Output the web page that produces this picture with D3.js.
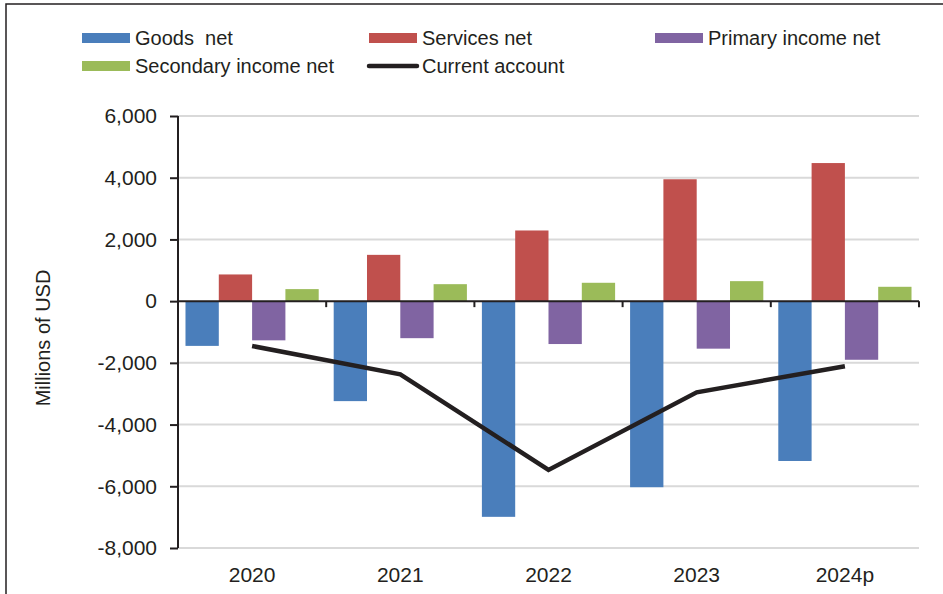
<!DOCTYPE html>
<html>
<head>
<meta charset="utf-8">
<script src="https://cdn.jsdelivr.net/npm/d3@7"></script>
<style>
  body { margin: 0; background: #fff; }
  svg { display: block; font-family: "Liberation Sans", Arial, sans-serif; }
  .grid line { stroke: #d9d9d9; stroke-width: 2; }
  .axis path, .axis line { stroke: #231f20; stroke-width: 2; }
  .axis text { fill: #231f20; font-size: 21px; }
  .legend text { fill: #231f20; font-size: 20px; white-space: pre; }
</style>
</head>
<body>
<div id="chart-container"><svg></svg></div>
<script>
const years = ["2020", "2021", "2022", "2023", "2024p"];
const seriesNames = ["Goods  net", "Services net", "Primary income net", "Secondary income net"];
const goodsNet = [-1450, -3240, -6990, -6030, -5180];
const servicesNet = [865, 1500, 2290, 3950, 4475];
const primaryIncomeNet = [-1270, -1200, -1390, -1540, -1900];
const secondaryIncomeNet = [390, 550, 595, 648, 465];
const currentAccount = [-1455, -2370, -5470, -2955, -2110];
const yTicks = [6000, 4000, 2000, 0, -2000, -4000, -6000, -8000];

const colors = ["#4a7ebb", "#c0504d", "#8064a2", "#9bbb59"];

const chartSize = {width: 943, height: 594};
const margin = {left: 178, right: 24, top: 116, bottom: 46};
const width = chartSize.width - margin.left - margin.right;
const height = chartSize.height - margin.top - margin.bottom;

const svg = d3.select("#chart-container svg")
  .attr("width", chartSize.width)
  .attr("height", chartSize.height);

// outer frame (left and top edges visible)
svg.append("path")
  .attr("d", "M6,594V4H943")
  .attr("fill", "none")
  .attr("stroke", "#231f20")
  .attr("stroke-width", 1.5);

const g = svg.append("g")
  .attr("transform", `translate(${margin.left},${margin.top})`);

const y = d3.scaleLinear().domain([-8000, 6000]).range([height, 0]);
const x0 = d3.scaleBand().domain(years).range([0, width]);
const x1 = d3.scaleBand().domain(d3.range(4)).range([0, x0.bandwidth()])
  .paddingInner(0).paddingOuter(0.225);

g.append("g")
  .attr("class", "grid")
  .selectAll("line")
  .data(yTicks.filter(d => d !== 0))
  .join("line")
  .attr("x1", 0)
  .attr("x2", width)
  .attr("y1", d => y(d))
  .attr("y2", d => y(d));

const values = [goodsNet, servicesNet, primaryIncomeNet, secondaryIncomeNet];
const barData = [];
years.forEach((yr, i) => {
  values.forEach((arr, s) => barData.push({yr, s, v: arr[i]}));
});

g.append("g")
  .selectAll("rect")
  .data(barData)
  .join("rect")
  .attr("x", d => x0(d.yr) + x1(d.s))
  .attr("width", x1.bandwidth())
  .attr("y", d => y(Math.max(0, d.v)))
  .attr("height", d => Math.abs(y(d.v) - y(0)))
  .attr("fill", d => colors[d.s]);

// y axis, plain hyphen for negatives
const fmt = d3.format(",");
const yAxis = d3.axisLeft(y).tickValues(yTicks)
  .tickFormat(d => fmt(d).replace("\u2212", "-"))
  .tickSize(8).tickPadding(13);
g.append("g").attr("class", "axis y-axis").call(yAxis)
  .call(a => a.select(".domain").attr("d", `M0,0V${height}`));

// x axis on zero line with ticks at category boundaries
const xg = g.append("g").attr("class", "axis x-axis")
  .attr("transform", `translate(0,${y(0)})`);
xg.append("line").attr("x1", 0).attr("x2", width).attr("y1", 0).attr("y2", 0);
xg.selectAll(".bt")
  .data(years.slice(1).concat(["end"]))
  .join("line")
  .attr("class", "bt")
  .attr("x1", d => d === "end" ? width : x0(d))
  .attr("x2", d => d === "end" ? width : x0(d))
  .attr("y1", 0)
  .attr("y2", 6);

g.append("g").attr("class", "axis")
  .selectAll("text")
  .data(years)
  .join("text")
  .attr("x", d => x0(d) + x0.bandwidth() / 2)
  .attr("y", height + 34)
  .attr("text-anchor", "middle")
  .text(d => d);

// current account line
const line = d3.line()
  .x((d, i) => x0(years[i]) + x0.bandwidth() / 2)
  .y(d => y(d));
g.append("path")
  .attr("d", line(currentAccount))
  .attr("fill", "none")
  .attr("stroke", "#231f20")
  .attr("stroke-width", 4.5)
  .attr("stroke-linejoin", "miter");

// y axis label
svg.append("text")
  .attr("transform", "translate(50,338) rotate(-90)")
  .attr("text-anchor", "middle")
  .attr("fill", "#231f20")
  .style("font-size", "20px")
  .text("Millions of USD");

// legend
const legendItems = [
  {name: seriesNames[0], color: colors[0], x: 82, y: 38, type: "bar"},
  {name: seriesNames[1], color: colors[1], x: 369, y: 38, type: "bar"},
  {name: seriesNames[2], color: colors[2], x: 655, y: 38, type: "bar"},
  {name: seriesNames[3], color: colors[3], x: 82, y: 66, type: "bar"},
  {name: "Current account", color: "#231f20", x: 369, y: 66, type: "line"}
];
const lg = svg.append("g").attr("class", "legend");
const items = lg.selectAll("g").data(legendItems).join("g")
  .attr("transform", d => `translate(${d.x},${d.y})`);
items.filter(d => d.type === "bar").append("rect")
  .attr("x", 0).attr("y", -5).attr("width", 48).attr("height", 10)
  .attr("fill", d => d.color);
items.filter(d => d.type === "line").append("line")
  .attr("x1", 0).attr("x2", 48).attr("y1", 0).attr("y2", 0)
  .attr("stroke", d => d.color).attr("stroke-width", 4.5).attr("stroke-linecap", "round");
items.append("text")
  .attr("x", 53)
  .attr("y", 7)
  .text(d => d.name);
</script>
</body>
</html>
